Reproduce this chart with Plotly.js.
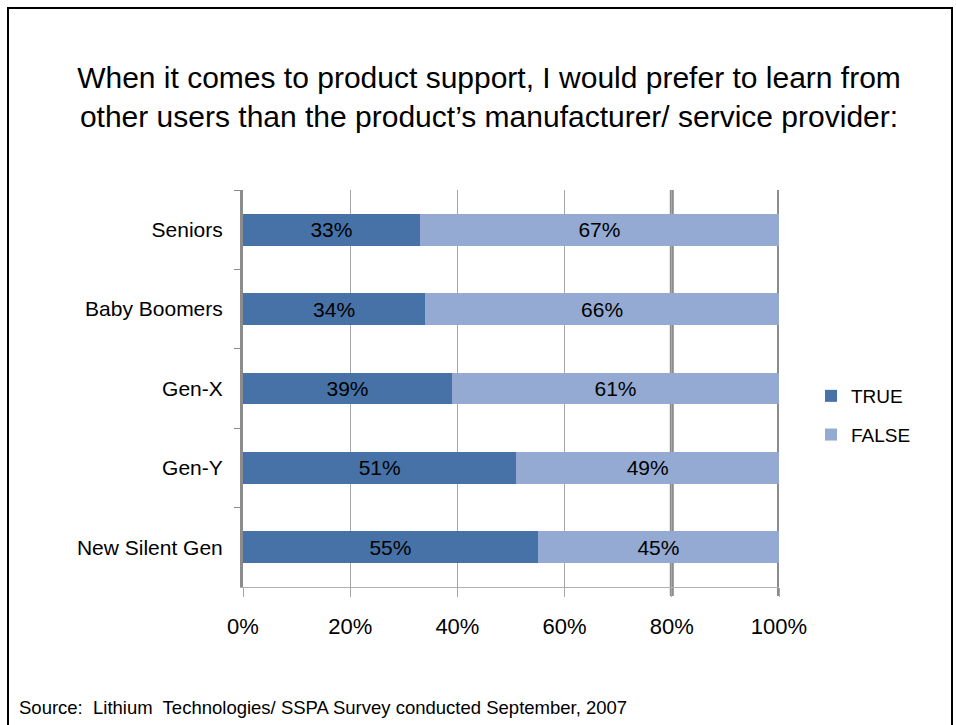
<!DOCTYPE html>
<html>
<head>
<meta charset="utf-8">
<script src="https://cdn.plot.ly/plotly-3.0.1.min.js"></script>
<style>html,body{margin:0;padding:0;background:#fff;}#chart{width:956px;height:725px;}</style>
</head>
<body>
<div id="chart"></div>
<script>
var categories = ["Seniors", "Baby Boomers", "Gen-X", "Gen-Y", "New Silent Gen"];
var trueValues = [33, 34, 39, 51, 55];
var falseValues = [67, 66, 61, 49, 45];
var xTickValues = [0, 20, 40, 60, 80, 100];
var xTickLabels = ["0%", "20%", "40%", "60%", "80%", "100%"];
var titleText = "When it comes to product support, I would prefer to learn from<br>other users than the product\u2019s manufacturer/ service provider:";
var sourceText = "Source:  Lithium  Technologies/ SSPA Survey conducted September, 2007";

var FONT = "Liberation Sans, Arial, sans-serif";
var L = 243, R = 779, T = 190, B = 587, W = 956, H = 725;
function px2x(p){ return (p - L) / (R - L); }
function px2y(p){ return (B - p) / (B - T); }

var traces = [
  {
    type: "bar", orientation: "h", name: "TRUE",
    y: categories, x: trueValues,
    marker: {color: "#4672A8", line: {width: 0}},
    texttemplate: "%{x}%", textposition: "inside", insidetextanchor: "middle",
    textfont: {family: FONT, size: 21, color: "#000"},
    legendgroup: "a", hoverinfo: "x+y"
  },
  {
    type: "bar", orientation: "h", name: "FALSE",
    y: categories, x: falseValues,
    marker: {color: "#94AAD2", line: {width: 0}},
    texttemplate: "%{x}%", textposition: "inside", insidetextanchor: "middle",
    textfont: {family: FONT, size: 21, color: "#000"},
    legendgroup: "b", hoverinfo: "x+y"
  }
];

var layout = {
  width: W, height: H,
  margin: {l: L, r: W - R, t: T, b: H - B, pad: 0},
  paper_bgcolor: "#fff", plot_bgcolor: "#fff",
  font: {family: FONT, color: "#000"},
  barmode: "stack", bargap: 0.6,
  showlegend: true,
  title: {
    text: titleText,
    font: {family: FONT, size: 30, color: "#000"},
    xref: "container", x: 489 / W, xanchor: "center",
    yref: "container", y: 1 - 88 / H, yanchor: "middle"
  },
  xaxis: {
    range: [0, 100], tickvals: xTickValues, ticktext: xTickLabels,
    showgrid: true, gridcolor: "#a6a6a6", gridwidth: 1,
    ticks: "outside", ticklen: 9, tickcolor: "#a6a6a6", tickwidth: 1,
    ticklabelstandoff: 11,
    showline: true, linecolor: "#b0b0b0", linewidth: 1,
    zeroline: false, fixedrange: true,
    tickfont: {family: FONT, size: 22, color: "#000"}
  },
  yaxis: {
    autorange: "reversed", type: "category",
    showgrid: false, zeroline: false,
    showline: true, linecolor: "#8c8c8c", linewidth: 3,
    ticks: "outside", tickson: "boundaries", ticklen: 6, tickcolor: "#8c8c8c", tickwidth: 1,
    ticklabelstandoff: 13, fixedrange: true,
    tickfont: {family: FONT, size: 21, color: "#000"}
  },
  legend: {
    x: px2x(811), xanchor: "left", y: px2y(377), yanchor: "top",
    traceorder: "grouped", tracegroupgap: 11,
    font: {family: FONT, size: 19, color: "#000"},
    itemwidth: 30, bgcolor: "rgba(0,0,0,0)"
  },
  shapes: [
    {type: "line", xref: "x", yref: "paper", x0: 80, x1: 80, y0: px2y(596), y1: 1, layer: "below",
     line: {color: "#8c8c8c", width: 4}},
    {type: "line", xref: "x", yref: "paper", x0: 100, x1: 100, y0: px2y(596), y1: 1, layer: "below",
     line: {color: "#8c8c8c", width: 4}},
    {type: "rect", xref: "paper", yref: "paper", x0: px2x(8), x1: px2x(952), y0: px2y(740), y1: px2y(8),
     line: {color: "#000", width: 2}, fillcolor: "rgba(0,0,0,0)"}
  ],
  annotations: [
    {text: sourceText, xref: "paper", yref: "paper", x: px2x(17), y: px2y(707),
     xanchor: "left", yanchor: "middle", showarrow: false,
     font: {family: FONT, size: 18.5, color: "#000"}}
  ]
};

Plotly.newPlot("chart", traces, layout, {displayModeBar: false, staticPlot: true});
</script>
</body>
</html>
